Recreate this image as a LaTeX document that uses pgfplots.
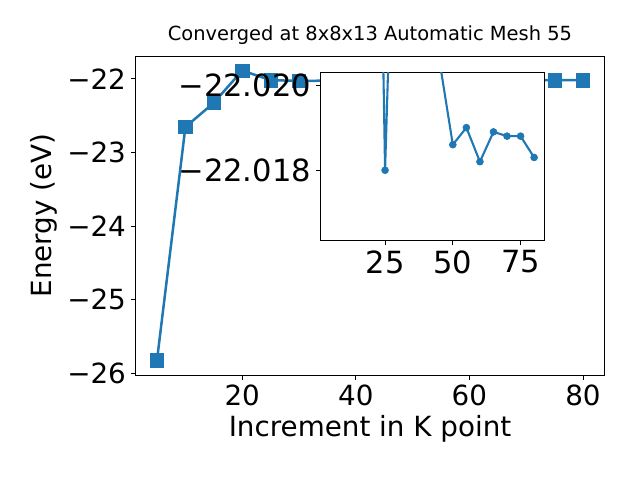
\documentclass[border=0pt]{standalone}
\usepackage{fontspec}
\setmainfont{DejaVu Sans}
\usepackage{pgfplots}
\pgfplotsset{compat=1.18}
\definecolor{mplblue}{HTML}{1F77B4}
\newcommand\bigfont{\fontsize{20}{24}\selectfont}
\newcommand\insetfont{\fontsize{22}{26}\selectfont}

\begin{document}
\begin{tikzpicture}
\path[use as bounding box] (-97.7pt,-75.6pt) rectangle (363.1pt,270pt);
% main axes
\begin{axis}[
    at={(0pt,0pt)}, anchor=south west,
    scale only axis, width=337.4pt, height=229.7pt,
    xmin=1.25, xmax=83.75, ymin=-26.02, ymax=-21.69,
    xtick={20,40,60,80},
    ytick={-26,-25,-24,-23,-22},
    yticklabels={−26,−25,−24,−23,−22},
    tick align=outside, tick pos=left,
    major tick length=3.5pt,
    every tick/.style={black, line width=0.6pt},
    axis line style={line width=0.6pt},
    ticklabel style={font=\bigfont},
    /pgf/number format/assume math mode=true,
    xlabel={Increment in K point},
    ylabel={Energy (eV)},
    label style={font=\bigfont},
    title={Converged at 8x8x13 Automatic Mesh 55},
    title style={font=\fontsize{14}{17}\selectfont, yshift=-1pt},
]
\addplot[mplblue, line width=1.8pt, mark=square*, mark size=4.8pt,
    mark options={line width=0.4pt}] coordinates {
(5,-25.82) (10,-22.655) (15,-22.325) (20,-21.888) (25,-22.018)
(30,-22.0285) (35,-22.025) (40,-22.025) (45,-22.0206) (50,-22.0186)
(55,-22.0190) (60,-22.0182) (65,-22.0189) (70,-22.0188) (75,-22.0188)
(80,-22.0183)
};
\end{axis}
% inset
\begin{axis}[
    at={(133.2pt,96.8pt)}, anchor=south west,
    scale only axis, width=161pt, height=121.2pt,
    axis background/.style={fill=white},
    xmin=1.25, xmax=83.75, ymin=-22.0203, ymax=-22.01635,
    y dir=reverse,
    xtick={25,50,75},
    ytick={-22.020,-22.018},
    yticklabels={−22.020,−22.018},
    tick align=outside, tick pos=left,
    major tick length=3.5pt,
    every tick/.style={black, line width=0.6pt},
    axis line style={line width=0.6pt},
    ticklabel style={font=\insetfont},
    /pgf/number format/assume math mode=true,
]
\addplot[mplblue, line width=1.5pt, mark=*, mark size=2.5pt,
    mark options={line width=0.4pt}] coordinates {
(5,-22.045) (10,-22.04) (15,-22.04) (20,-22.037) (25,-22.0180)
(30,-22.0285) (35,-22.025) (40,-22.025) (45,-22.0206) (50,-22.0186)
(55,-22.0190) (60,-22.0182) (65,-22.0189) (70,-22.0188) (75,-22.0188)
(80,-22.0183)
};
\end{axis}
\end{tikzpicture}
\end{document}
